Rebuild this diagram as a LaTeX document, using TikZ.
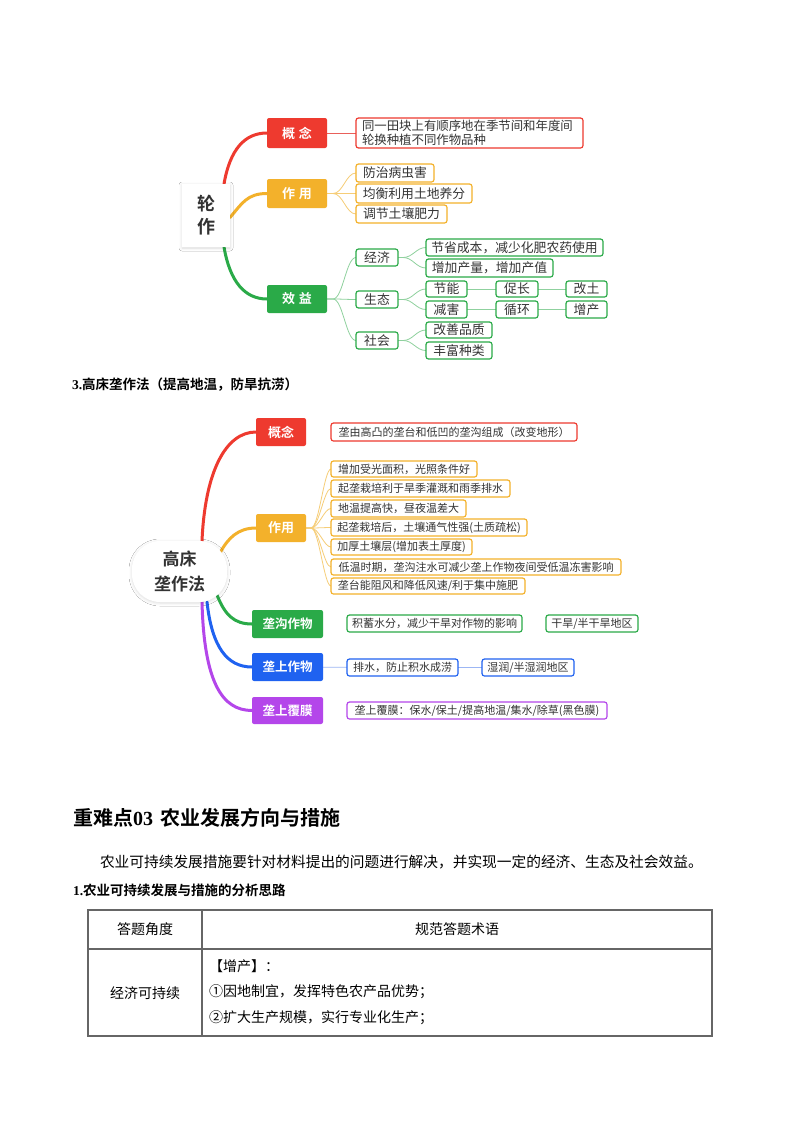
\documentclass[tikz,border=0pt]{standalone}
\usepackage{fontspec}
\setmainfont{Noto Sans CJK SC}[BoldFont={Noto Sans CJK SC Bold}]
\newfontfamily\tnr{Liberation Serif}
\usetikzlibrary{backgrounds,shadows.blur}
\newcommand\myfs[1]{\fontsize{#1}{#1}\selectfont}
\definecolor{cRed}{HTML}{EE3A2F}
\definecolor{cOra}{HTML}{F3B12B}
\definecolor{cGrn}{HTML}{2AAA48}
\definecolor{cBlu}{HTML}{1F62F0}
\definecolor{cPur}{HTML}{B446EA}
\definecolor{lRed}{HTML}{E9605A}
\definecolor{lOra}{HTML}{F6CD77}
\definecolor{lGrn}{HTML}{8FD19E}
\definecolor{lBlu}{HTML}{9CB6F4}
\definecolor{txt}{HTML}{333333}
\definecolor{tblc}{HTML}{666666}
\tikzset{
  every node/.style={inner sep=0pt, outer sep=0pt},
  sz/.style 2 args={minimum width=#1pt, minimum height=#2pt},
  cat/.style={rectangle, rounded corners=2pt, text=white, font=\bfseries\myfs{13}, anchor=north west},
  leafA/.style={rectangle, rounded corners=2.5pt, fill=white, line width=1.2pt, text=txt, font=\myfs{12.8}, anchor=north west},
  leafB/.style={leafA, font=\myfs{11}},
  centerbox/.style={rectangle, fill=white, text=txt, align=center, anchor=north west,
     blur shadow={shadow xshift=0pt, shadow yshift=-1pt, shadow blur radius=3pt, shadow opacity=14}},
  branch/.style={line width=3pt, line cap=round},
  fork/.style={line width=0.8pt},
  tbl/.style={line width=1.1pt, draw=tblc},
  tcell/.style={font=\myfs{14}, text=black},
}
\begin{document}
\begin{tikzpicture}[x=1pt,y=-1pt]
\useasboundingbox (0,0) rectangle (800,1132);

% ---------------- Map 1 : 轮作 ----------------
\node[centerbox, sz={48}{63}, font=\bfseries\fontsize{18}{23}\selectfont] (c1) at (182,184) {轮\\作};

\node[cat, fill=cRed, sz={60}{30}] (gn1) at (267,118) {概\hspace{4pt}念};
\node[leafA, draw=cRed, text width=215pt, align=left, inner xsep=6pt, minimum height=30pt,
      font=\fontsize{12.4}{13.5}\selectfont] (gn1t) at (356,118) {同一田块上有顺序地在季节间和年度间\\轮换种植不同作物品种};

\node[cat, fill=cOra, sz={60}{29}] (zy1) at (267,179) {作\hspace{4pt}用};
\node[leafA, draw=cOra, sz={78}{18}] (zy1a) at (356,164) {防治病虫害};
\node[leafA, draw=cOra, sz={116}{19}] (zy1b) at (356,184) {均衡利用土地养分};
\node[leafA, draw=cOra, sz={91}{18}] (zy1c) at (356,205) {调节土壤肥力};

\node[cat, fill=cGrn, sz={60}{28}] (xy1) at (267,285) {效\hspace{4pt}益};
\node[leafA, draw=cGrn, sz={42}{17}] (jj) at (356,249) {经济};
\node[leafA, draw=cGrn, sz={42}{17}] (st) at (356,291) {生态};
\node[leafA, draw=cGrn, sz={42}{17}] (sh) at (356,332) {社会};
\node[leafA, draw=cGrn, sz={177}{17}] (jj1) at (426,239) {节省成本，减少化肥农药使用};
\node[leafA, draw=cGrn, sz={127}{18}] (jj2) at (426,259) {增加产量，增加产值};
\node[leafA, draw=cGrn, sz={41}{16}] (jn) at (426,281) {节能};
\node[leafA, draw=cGrn, sz={41}{17}] (jh) at (426,301) {减害};
\node[leafA, draw=cGrn, sz={42}{16}] (cz) at (496,281) {促长};
\node[leafA, draw=cGrn, sz={42}{17}] (xh) at (496,301) {循环};
\node[leafA, draw=cGrn, sz={41}{16}] (gt) at (566,281) {改土};
\node[leafA, draw=cGrn, sz={41}{17}] (zc) at (566,301) {增产};
\node[leafA, draw=cGrn, sz={66}{16}] (gs) at (426,322) {改善品质};
\node[leafA, draw=cGrn, sz={66}{17}] (fz) at (426,342) {丰富种类};

% ---------------- heading ----------------
\node[anchor=west, font=\bfseries\myfs{13.5}] (h3) at (72,385) {{\tnr 3.}高床垄作法（提高地温，防旱抗涝）};

% ---------------- Map 2 : 高床垄作法 ----------------
\node[centerbox, sz={95}{61}, rounded corners=28pt, font=\bfseries\fontsize{17}{25}\selectfont] (c2) at (132,541) {高床\\垄作法};

\node[cat, fill=cRed, sz={50}{28}] (gn2) at (256,418) {概念};
\node[leafB, draw=cRed, sz={246}{18}] (gn2t) at (331,423) {垄由高凸的垄台和低凹的垄沟组成（改变地形）};

\node[cat, fill=cOra, sz={50}{28}] (zy2) at (256,514) {作用};
\node[leafB, draw=cOra, sz={146}{16}] (z1) at (331,461) {增加受光面积，光照条件好};
\node[leafB, draw=cOra, sz={179}{17}] (z2) at (331,480) {起垄栽培利于旱季灌溉和雨季排水};
\node[leafB, draw=cOra, sz={135}{17}] (z3) at (331,500) {地温提高快，昼夜温差大};
\node[leafB, draw=cOra, sz={196}{17}] (z4) at (331,519) {起垄栽培后，土壤通气性强(土质疏松)};
\node[leafB, draw=cOra, sz={141}{16}] (z5) at (331,539) {加厚土壤层(增加表土厚度)};
\node[leafB, draw=cOra, sz={290}{16}] (z6) at (331,559) {低温时期，垄沟注水可减少垄上作物夜间受低温冻害影响};
\node[leafB, draw=cOra, sz={194}{16}] (z7) at (331,578) {垄台能阻风和降低风速/利于集中施肥};

\node[cat, fill=cGrn, sz={71}{28}, font=\bfseries\myfs{12.5}] (lg) at (252,610) {垄沟作物};
\node[leafB, draw=cGrn, sz={175}{17}] (lg1) at (347,615) {积蓄水分，减少干旱对作物的影响};
\node[leafB, draw=cGrn, sz={92}{17}] (lg2) at (546,615) {干旱/半干旱地区};

\node[cat, fill=cBlu, sz={71}{28}, font=\bfseries\myfs{12.5}] (ls) at (252,653) {垄上作物};
\node[leafB, draw=cBlu, sz={111}{17}] (ls1) at (347,659) {排水，防止积水成涝};
\node[leafB, draw=cBlu, sz={92}{17}] (ls2) at (482,659) {湿润/半湿润地区};

\node[cat, fill=cPur, sz={71}{27}, font=\bfseries\myfs{12.5}] (lf) at (252,697) {垄上覆膜};
\node[leafB, draw=cPur, sz={260}{17}] (lf1) at (347,702) {垄上覆膜：保水/保土/提高地温/集水/除草(黑色膜)};

% ---------------- text section ----------------
\node[anchor=west, font=\bfseries\myfs{20}] (h03) at (73,818) {重难点{\tnr 03}\hspace{7pt}农业发展方向与措施};
\node[anchor=west, font=\myfs{14.7}] (body) at (100,862) {农业可持续发展措施要针对材料提出的问题进行解决，并实现一定的经济、生态及社会效益。};
\node[anchor=west, font=\bfseries\myfs{13.5}] (h1) at (73,890) {{\tnr 1.}农业可持续发展与措施的分析思路};

\draw[tbl] (88,910) rectangle (712,1036);
\draw[tbl] (88,949) -- (712,949);
\draw[tbl] (202,910) -- (202,1036);
\node[tcell] (t11) at (145,929) {答题角度};
\node[tcell] (t12) at (457,929) {规范答题术语};
\node[tcell] (t21) at (145,993) {经济可持续};
\node[tcell, anchor=west] (t22a) at (209,966) {【增产】：};
\node[tcell, anchor=west] (t22b) at (209,992) {①因地制宜，发挥特色农产品优势；};
\node[tcell, anchor=west] (t22c) at (209,1018) {②扩大生产规模，实行专业化生产；};

% ---------------- connectors ----------------
\begin{scope}[on background layer]
\fill[white] (0,0) rectangle (800,1132);
% map 1 main branches
\draw[branch, cRed] ([xshift=-6pt]c1.north east) .. controls +(6,-35) and +(-22,0) .. (gn1.west);
\draw[branch, cOra] ([yshift=-2pt]c1.east) .. controls +(12,-14) and +(-20,0) .. (zy1.west);
\draw[branch, cGrn] ([xshift=-6pt]c1.south east) .. controls +(6,35) and +(-22,0) .. (xy1.west);
% map 1 sub connectors
\draw[fork, lRed] (gn1) -- (gn1t);
\foreach \t in {zy1a,zy1b,zy1c}
  \draw[fork, lOra] (zy1.east) -- ++(6,0) .. controls +(10,0) and +(-10,0) .. (\t.west);
\foreach \t in {jj,st,sh}
  \draw[fork, lGrn] (xy1.east) -- ++(6,0) .. controls +(10,0) and +(-10,0) .. (\t.west);
\foreach \t in {jj1,jj2}
  \draw[fork, lGrn] (jj.east) -- ++(5,0) .. controls +(10,0) and +(-10,0) .. (\t.west);
\foreach \t in {jn,jh}
  \draw[fork, lGrn] (st.east) -- ++(5,0) .. controls +(10,0) and +(-10,0) .. (\t.west);
\foreach \t in {gs,fz}
  \draw[fork, lGrn] (sh.east) -- ++(5,0) .. controls +(10,0) and +(-10,0) .. (\t.west);
\draw[fork, lGrn] (jn) -- (cz) -- (gt);
\draw[fork, lGrn] (jh) -- (xh) -- (zc);
% map 2 main branches
\draw[branch, cRed] ([xshift=-25pt]c2.north east) .. controls +(3,-70) and +(-30,0) .. (gn2.west);
\draw[branch, cOra] ([xshift=-7pt,yshift=-12pt]c2.north east) .. controls +(8,-15) and +(-18,0) .. (zy2.west);
\draw[branch, cGrn] ([xshift=-10pt,yshift=7pt]c2.south east) .. controls +(8,20) and +(-18,0) .. (lg.west);
\draw[branch, cBlu] ([xshift=-20pt]c2.south east) .. controls +(5,45) and +(-25,0) .. (ls.west);
\draw[branch, cPur] ([xshift=-25pt]c2.south east) .. controls +(2,80) and +(-30,0) .. (lf.west);
% map 2 sub connectors
\foreach \t in {z1,z2,z3,z4,z5,z6,z7}
  \draw[fork, lOra] (zy2.east) -- ++(5,0) .. controls +(8,0) and +(-7,0) .. (\t.west);
\draw[fork, lBlu] (ls) -- (ls1) -- (ls2);
\end{scope}
\end{tikzpicture}
\end{document}
